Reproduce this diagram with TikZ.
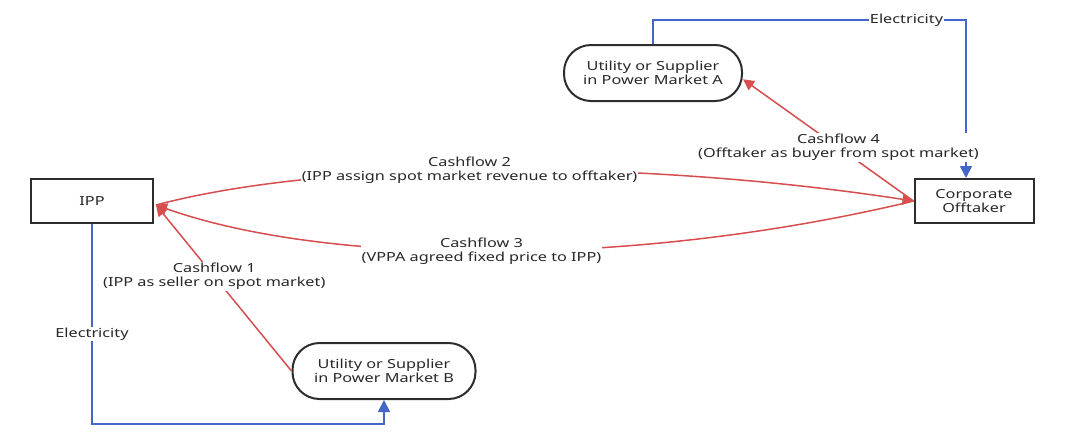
\documentclass[tikz,border=0pt]{standalone}
\usepackage{fontspec}
\setmainfont{Noto Sans}[FakeStretch=1.3]
\usetikzlibrary{arrows.meta}
\definecolor{cf}{RGB}{214,78,78}
\definecolor{el}{RGB}{70,102,198}
\definecolor{bx}{RGB}{45,45,45}
\definecolor{tx}{RGB}{40,40,40}
\begin{document}
\begin{tikzpicture}[x=1pt,y=-1pt,
  font=\fontsize{12.5}{13.8}\selectfont,
  box/.style={draw=bx, line width=2pt, minimum width=122pt, minimum height=44pt, text=tx, align=center, inner sep=2pt},
  mkt/.style={draw=bx, line width=2pt, rounded corners=27pt, minimum width=178pt, minimum height=56pt, align=center, text=tx, inner sep=2pt},
  cash/.style={draw=cf, line width=1.5pt, -{Triangle[length=11pt,width=11pt]}},
  elec/.style={draw=el, line width=1.8pt},
  elarrow/.style={-{Triangle[length=12pt,width=12pt]}},
  lab/.style={fill=white, text=tx, align=center, inner sep=1pt}]
\useasboundingbox (0,0) rectangle (1080,445);
\fill[white] (0,0) rectangle (1080,445);

\node[box] (IPP) at (92,201) {IPP};
\node[box, minimum width=119pt] (Off) at (974,201) {Corporate\\Offtaker};
\node[mkt] (A) at (653,73) {Utility or Supplier\\in Power Market A};
\node[mkt, minimum width=183pt] (B) at (384,371) {Utility or Supplier\\in Power Market B};

\coordinate (ippin) at ([shift={(2,4)}]IPP.east);
\coordinate (etop) at (966,20);
\coordinate (ebot) at (92,424);

% electricity flows
\draw[elec, elarrow] (A.north) |- node[lab, pos=0.905]{Electricity} (etop) -- (etop |- Off.north);
\draw[elec, elarrow] (IPP.south) -- node[lab, pos=0.55]{Electricity} (ebot) -| (B.south);

% cashflows
\draw[cash] (B.west) -- node[lab, pos=0.57]{Cashflow 1\\(IPP as seller on spot market)} (ippin);
\draw[cash] (ippin) .. controls (330,159) and (640,159) .. node[lab, pos=0.465]{Cashflow 2\\(IPP assign spot market revenue to offtaker)} (Off.west);
\draw[cash] (Off.west) .. controls (640,267) and (330,267) .. node[lab, pos=0.52]{Cashflow 3\\(VPPA agreed fixed price to IPP)} (ippin);
\draw[cash] (Off.west) -- node[lab, pos=0.44]{Cashflow 4\\(Offtaker as buyer from spot market)} (A.-4);
\end{tikzpicture}
\end{document}
